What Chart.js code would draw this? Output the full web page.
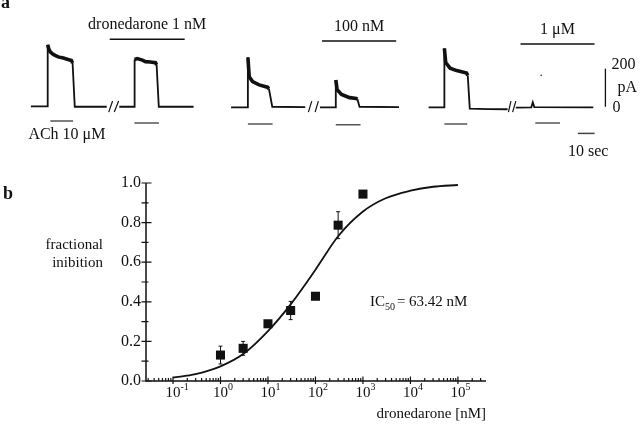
<!DOCTYPE html>
<html>
<head>
<meta charset="utf-8">
<script src="https://cdn.jsdelivr.net/npm/chart.js@4.4.0/dist/chart.umd.min.js"></script>
<style>
  html, body { margin: 0; padding: 0; background: #fff; }
  #wrap { position: relative; width: 640px; height: 430px; overflow: hidden; background: #fff; }
  #traces { position: absolute; left: 0; top: 0; }
  #dose { position: absolute; left: 0; top: 160px; }
</style>
</head>
<body>
<div id="wrap">
  <canvas id="traces" width="640" height="165"></canvas>
  <canvas id="dose" width="640" height="270"></canvas>
</div>
<script>
// ---- panel a: ACh-activated currents (time in s, current in pA) ----
const trace1T = [16.0, 25.9, 26.0, 26.6, 27.4, 28.8, 30.4, 32.3, 35.3, 37.6, 40.1, 40.8, 42.1, 61.1];
const trace1I = [2, 2, 326, 305, 290, 278, 270, 262, 256, 250, 243, 230, 0, 0];
const trace2T = [68.6, 77.4, 77.7, 79.3, 82.3, 84.2, 87.0, 90.1, 90.8, 92.1, 112.8];
const trace2I = [0, 0, 248, 253, 245, 237, 235, 232, 220, 0, 0];
const trace3T = [135.1, 144.9, 145.1, 145.9, 147.9, 151.8, 156.7, 157.6, 159.6, 179.2];
const trace3I = [-3, -3, 260, 157, 132, 115, 103, 95, 0, -2];
const trace4T = [188.0, 197.2, 197.4, 198.2, 200.8, 205.6, 209.6, 210.3, 211.5, 235.0];
const trace4I = [-3, -3, 140, 90, 65, 48, 43, 40, 0, -2];
const trace5T = [252.6, 261.9, 262.0, 262.8, 265.4, 269.3, 275.2, 275.9, 277.1, 287.9, 299.6];
const trace5I = [-3, -3, 307, 232, 203, 190, 177, 165, -10, -12, -13];
const trace6T = [304.5, 313.7, 314.6, 315.5, 350.6];
const trace6I = [-5, -3, 23, -2, -3];

// axis-break slashes
const slashFrom = [62.3, 65.6, 181.1, 185.1, 300.1, 302.6];
const slashTo = [64.6, 68.2, 183.1, 187.0, 301.6, 304.5];
const slashLow = -28;
const slashHigh = 30;

// drug application bars
const drugLabels = ['dronedarone 1 nM', '100 nM', '1 \u03bcM'];
const drugStart = [62.9, 189.2, 307.3];
const drugEnd = [107.5, 233.3, 351.3];
const drugLevel = [355, 345, 330];

// ACh application bars
const achStart = [27.6, 77.6, 145.1, 197.4, 262.0, 316.1];
const achEnd = [41.1, 92.2, 159.8, 212.1, 275.6, 330.8];
const achLevel = [-75, -85, -90, -95, -90, -85];

// scale bars
const scaleCurrent = [0, 200];
const scaleCurrentAt = 357.8;
const scaleTime = [341.4, 351.4];
const scaleTimeAt = -140;
const speck = [319.6, 165];

// ---- panel b: concentration-response ----
const doses = [1, 3, 10, 30, 100, 300, 1000];
const inhibition = [0.131, 0.165, 0.289, 0.356, 0.428, 0.787, 0.944];
const sem = [0.045, 0.035, 0.015, 0.046, 0.01, 0.068, 0];
const fitDose = [0.1, 0.3, 1, 3, 10, 30, 100, 300, 1000, 3000, 10000, 30000, 100000];
const fitInhibition = [0.017, 0.035, 0.074, 0.136, 0.252, 0.387, 0.562, 0.731, 0.856, 0.923, 0.961, 0.981, 0.99];
const yTicks = [0, 0.2, 0.4, 0.6, 0.8, 1.0];
const xDecades = [-1, 0, 1, 2, 3, 4, 5];

const ink = '#111';
const serif = '"Liberation Serif", "Times New Roman", serif';

function pts(xs, ys) {
    return xs.map((v, i) => ({ x: v, y: ys[i] }));
}

function bars(starts, ends, levels) {
    const out = [];
    starts.forEach((s, i) => {
        const lv = Array.isArray(levels) ? levels[i] : levels;
        out.push({ x: s, y: lv }, { x: ends[i], y: lv }, { x: ends[i], y: null });
    });
    return out;
}

function slashes() {
    const out = [];
    slashFrom.forEach((s, i) => {
        out.push({ x: s, y: slashLow }, { x: slashTo[i], y: slashHigh }, { x: slashTo[i], y: null });
    });
    return out;
}

function traceSet(data) {
    return {
        data,
        borderColor: ink,
        borderWidth: 2,
        clip: false,
        segment: {
            borderWidth: c => (c.p0.parsed.y > 30 && c.p1.parsed.y > 30) ? 3.6 : 1.8
        }
    };
}

function plainSet(data, color, width) {
    return { data, borderColor: color, borderWidth: width, clip: false };
}

const traceText = {
    id: 'traceText',
    afterDraw(chart) {
        const { ctx, scales: { x, y } } = chart;
        ctx.save();
        ctx.fillStyle = ink;
        ctx.textBaseline = 'middle';
        ctx.font = '16px ' + serif;
        ctx.textAlign = 'center';
        drugLabels.forEach((t, i) => {
            const px = x.getPixelForValue((drugStart[i] + drugEnd[i]) / 2);
            ctx.fillText(t, px, y.getPixelForValue(drugLevel[i]) - 14);
        });
        ctx.textAlign = 'left';
        ctx.fillText('ACh 10 \u03bcM', x.getPixelForValue(achStart[0]) - 22, y.getPixelForValue(achLevel[0]) + 14);

        const sx = x.getPixelForValue(scaleCurrentAt);
        ctx.fillText('200', sx + 6, y.getPixelForValue(scaleCurrent[1]) - 4);
        ctx.fillText('pA', sx + 12, y.getPixelForValue((scaleCurrent[0] + scaleCurrent[1]) / 2));
        ctx.fillText('0', sx + 7, y.getPixelForValue(scaleCurrent[0]) + 1);

        ctx.textAlign = 'center';
        ctx.fillText('10 sec', x.getPixelForValue((scaleTime[0] + scaleTime[1]) / 2) + 2, y.getPixelForValue(scaleTimeAt) + 18);

        ctx.textAlign = 'left';
        ctx.textBaseline = 'alphabetic';
        ctx.font = 'bold 18px ' + serif;
        ctx.fillText('a', 1, 8);
        ctx.restore();
    }
};

new Chart(document.getElementById('traces'), {
    type: 'line',
    data: {
        datasets: [
            traceSet(pts(trace1T, trace1I)),
            traceSet(pts(trace2T, trace2I)),
            traceSet(pts(trace3T, trace3I)),
            traceSet(pts(trace4T, trace4I)),
            traceSet(pts(trace5T, trace5I)),
            traceSet(pts(trace6T, trace6I)),
            plainSet(slashes(), ink, 1.2),
            plainSet(bars(drugStart, drugEnd, drugLevel), ink, 1.5),
            plainSet(bars(achStart, achEnd, achLevel), '#555', 1.5),
            plainSet([{ x: scaleCurrentAt, y: scaleCurrent[0] }, { x: scaleCurrentAt, y: scaleCurrent[1] }], ink, 1.3),
            plainSet([{ x: scaleTime[0], y: scaleTimeAt }, { x: scaleTime[1], y: scaleTimeAt }], '#444', 1.5),
            { data: [{ x: speck[0], y: speck[1] }], showLine: false, pointRadius: 0.8, backgroundColor: '#333', borderWidth: 0 }
        ]
    },
    options: {
        responsive: false,
        animation: false,
        events: [],
        layout: { padding: 0 },
        elements: { point: { radius: 0 }, line: { tension: 0 } },
        plugins: { legend: { display: false }, tooltip: { enabled: false } },
        scales: {
            x: { type: 'linear', display: false, min: 0, max: 376 },
            y: { type: 'linear', display: false, min: -285, max: 540 }
        }
    },
    plugins: [traceText]
});

const doseAxes = {
    id: 'doseAxes',
    beforeDatasetsDraw(chart) {
        const { ctx, scales: { x, y } } = chart;
        ctx.save();
        ctx.strokeStyle = ink;
        ctx.lineWidth = 1;
        ctx.beginPath();
        doses.forEach((d, i) => {
            if (!sem[i]) return;
            const px = x.getPixelForValue(d);
            const top = y.getPixelForValue(inhibition[i] + sem[i]);
            const bot = y.getPixelForValue(inhibition[i] - sem[i]);
            ctx.moveTo(px, top); ctx.lineTo(px, bot);
            ctx.moveTo(px - 2, top); ctx.lineTo(px + 2, top);
            ctx.moveTo(px - 2, bot); ctx.lineTo(px + 2, bot);
        });
        ctx.stroke();
        ctx.restore();
    },
    afterDraw(chart) {
        const { ctx, chartArea: a, scales: { x, y } } = chart;
        ctx.save();
        ctx.strokeStyle = ink;
        ctx.fillStyle = ink;

        ctx.lineWidth = 1.5;
        ctx.beginPath();
        ctx.moveTo(a.left, a.top);
        ctx.lineTo(a.left, a.bottom);
        ctx.lineTo(a.right, a.bottom);
        ctx.stroke();

        // y ticks, minor every 0.1
        ctx.lineWidth = 1.2;
        ctx.beginPath();
        for (let k = 0; k <= 10; k++) {
            const py = y.getPixelForValue(k / 10);
            ctx.moveTo(a.left - 4.5, py);
            ctx.lineTo(a.left + (k % 2 ? 2.5 : 5.5), py);
        }
        // x ticks, minor at 2..9 of each decade
        for (let e = -2; e <= 5; e++) {
            for (let m = 1; m <= 9; m++) {
                const v = m * Math.pow(10, e);
                if (v < x.min || v > x.max) continue;
                const px = x.getPixelForValue(v);
                ctx.moveTo(px, a.bottom - (m === 1 ? 4.5 : 3));
                ctx.lineTo(px, a.bottom + (m === 1 ? 3 : 0));
            }
        }
        ctx.stroke();

        ctx.font = '16px ' + serif;
        ctx.textAlign = 'right';
        ctx.textBaseline = 'middle';
        yTicks.forEach(t => ctx.fillText(t.toFixed(1), a.left - 5, y.getPixelForValue(t)));

        xDecades.forEach(e => {
            const px = x.getPixelForValue(Math.pow(10, e));
            ctx.textBaseline = 'alphabetic';
            ctx.textAlign = 'center';
            ctx.font = '15px ' + serif;
            ctx.fillText('10', px, a.bottom + 16);
            ctx.textAlign = 'left';
            ctx.font = '10px ' + serif;
            ctx.fillText(String(e), px + 7.5, a.bottom + 9);
        });

        ctx.font = '15px ' + serif;
        ctx.textBaseline = 'middle';
        ctx.textAlign = 'right';
        ctx.fillText('fractional', a.left - 43, 85);
        ctx.fillText('inibition', a.left - 43, 103);
        ctx.fillText('dronedarone [nM]', a.right, a.bottom + 33);

        // IC50 annotation
        ctx.textAlign = 'left';
        ctx.textBaseline = 'alphabetic';
        let tx = x.getPixelForValue(1400);
        const ty = y.getPixelForValue(0.403) + 5;
        ctx.fillText('IC', tx, ty);
        tx += ctx.measureText('IC').width;
        ctx.font = '10px ' + serif;
        ctx.fillText('50', tx, ty + 4);
        tx += ctx.measureText('50').width + 2;
        ctx.font = '15px ' + serif;
        ctx.fillText('= 63.42 nM', tx, ty);

        ctx.font = 'bold 18px ' + serif;
        ctx.fillText('b', 3, 39);
        ctx.restore();
    }
};

new Chart(document.getElementById('dose'), {
    type: 'scatter',
    data: {
        datasets: [
            {
                type: 'line',
                data: pts(fitDose, fitInhibition),
                borderColor: ink,
                borderWidth: 1.8,
                pointRadius: 0,
                cubicInterpolationMode: 'monotone',
                clip: false
            },
            {
                type: 'scatter',
                data: pts(doses, inhibition),
                pointStyle: 'rect',
                pointRadius: 6.4,
                backgroundColor: ink,
                borderWidth: 0
            }
        ]
    },
    options: {
        responsive: false,
        animation: false,
        events: [],
        layout: { padding: { left: 146, right: 154, top: 23, bottom: 49 } },
        plugins: { legend: { display: false }, tooltip: { enabled: false } },
        scales: {
            x: { type: 'logarithmic', display: false, min: 0.027, max: 390000 },
            y: { type: 'linear', display: false, min: 0, max: 1 }
        }
    },
    plugins: [doseAxes]
});
</script>
</body>
</html>
